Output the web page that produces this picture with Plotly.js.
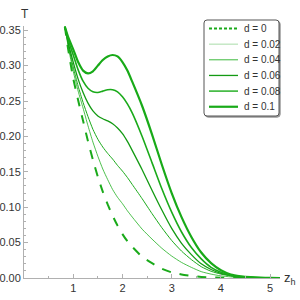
<!DOCTYPE html>
<html>
<head>
<meta charset="utf-8">
<script src="https://cdn.plot.ly/plotly-3.0.1.min.js"></script>
<style>html,body{margin:0;padding:0;background:#fff;}#chart{width:300px;height:300px;}</style>
</head>
<body>
<div id="chart"></div>
<script>
const zh = [0.83, 0.9, 1.0, 1.1, 1.2, 1.3, 1.4, 1.5, 1.6, 1.7, 1.8, 1.9, 2.0, 2.1, 2.2, 2.4, 2.6, 2.8, 3.0, 3.2, 3.4, 3.6, 3.8, 4.0, 4.2, 4.4, 4.6, 4.8, 5.0, 5.2];
const T_d0    = [0.355, 0.322, 0.282, 0.251, 0.222, 0.193, 0.167, 0.143, 0.122, 0.104, 0.088, 0.074, 0.062, 0.052, 0.044, 0.030, 0.021, 0.013, 0.008, 0.005, 0.003, 0.0015, 0.0008, 0.0004, 0.0002, 0.0001, 0.00005, 0.00002, 0.00001, 0];
const T_d002  = [0.355, 0.326, 0.292, 0.264, 0.240, 0.215, 0.192, 0.172, 0.154, 0.139, 0.125, 0.114, 0.105, 0.095, 0.086, 0.069, 0.055, 0.042, 0.031, 0.022, 0.015, 0.009, 0.0055, 0.003, 0.0016, 0.0008, 0.0004, 0.0002, 0.0001, 0];
const T_d004  = [0.355, 0.329, 0.298, 0.271, 0.248, 0.228, 0.210, 0.196, 0.185, 0.176, 0.168, 0.159, 0.151, 0.142, 0.132, 0.112, 0.091, 0.071, 0.053, 0.038, 0.026, 0.016, 0.0095, 0.0055, 0.003, 0.0015, 0.0007, 0.0003, 0.0001, 0];
const T_d006  = [0.355, 0.332, 0.305, 0.281, 0.262, 0.247, 0.236, 0.229, 0.225, 0.222, 0.218, 0.212, 0.204, 0.193, 0.180, 0.153, 0.124, 0.096, 0.070, 0.049, 0.033, 0.020, 0.012, 0.0065, 0.0034, 0.0017, 0.0008, 0.0003, 0.0001, 0];
const T_d008  = [0.355, 0.336, 0.315, 0.294, 0.278, 0.268, 0.263, 0.262, 0.264, 0.266, 0.266, 0.263, 0.256, 0.246, 0.233, 0.200, 0.163, 0.126, 0.093, 0.065, 0.043, 0.027, 0.015, 0.008, 0.004, 0.002, 0.001, 0.0004, 0.0001, 0];
const T_d010  = [0.355, 0.340, 0.323, 0.305, 0.293, 0.289, 0.292, 0.300, 0.308, 0.313, 0.315, 0.313, 0.305, 0.293, 0.277, 0.243, 0.203, 0.160, 0.120, 0.086, 0.058, 0.036, 0.021, 0.011, 0.005, 0.0025, 0.0011, 0.0004, 0.0001, 0];
const seriesNames = ["d = 0", "d = 0.02", "d = 0.04", "d = 0.06", "d = 0.08", "d = 0.1"];
const seriesVals = [T_d0, T_d002, T_d004, T_d006, T_d008, T_d010];
const xTickVals = [1, 2, 3, 4, 5];
const yTickVals = [0.00, 0.05, 0.10, 0.15, 0.20, 0.25, 0.30, 0.35];
const yTickText = ["0.00", "0.05", "0.10", "0.15", "0.20", "0.25", "0.30", "0.35"];

const colors = ["#1aaa1a", "#1fb01f", "#1aaa1a", "#139a13", "#1aaa1a", "#18aa18"];
const legendColors = ["#1aaa1a", "#a8dca8", "#3cba3c", "#139a13", "#36b536", "#18aa18"];
const widths = [2, 0.8, 1, 1.3, 1.6, 2.2];
const dashes = ["dash", "solid", "solid", "solid", "solid", "solid"];

const FONT = "Liberation Sans, Arial, sans-serif";

const traces = seriesVals.map((v, i) => ({
  x: zh, y: v, type: "scatter", mode: "lines", name: seriesNames[i],
  line: {color: colors[i], width: widths[i], dash: dashes[i], shape: "spline", smoothing: 0.6}
}));

// plot area in pixels
const L = 24, R = 20, TOP = 26, B = 22, W = 300, H = 300;
const pw = W - L - R, ph = H - TOP - B;
const px = p => (p - L) / pw;
const py = p => (H - B - p) / ph;

// custom legend box
const bx0 = 204, bx1 = 279, by0 = 20, by1 = 116, rad = 3;
function roundRect(x0, y0, x1, y1, r) {
  const X = px, Y = py;
  return `M ${X(x0 + r)} ${Y(y0)} L ${X(x1 - r)} ${Y(y0)} Q ${X(x1)} ${Y(y0)} ${X(x1)} ${Y(y0 + r)} ` +
         `L ${X(x1)} ${Y(y1 - r)} Q ${X(x1)} ${Y(y1)} ${X(x1 - r)} ${Y(y1)} ` +
         `L ${X(x0 + r)} ${Y(y1)} Q ${X(x0)} ${Y(y1)} ${X(x0)} ${Y(y1 - r)} ` +
         `L ${X(x0)} ${Y(y0 + r)} Q ${X(x0)} ${Y(y0)} ${X(x0 + r)} ${Y(y0)} Z`;
}
const shapes = [
  {type: "path", xref: "paper", yref: "paper", path: roundRect(bx0 + 1.2, by0 + 1.2, bx1 + 1.2, by1 + 1.2, rad),
   fillcolor: "#9a9a9a", line: {color: "#9a9a9a", width: 1}},
  {type: "path", xref: "paper", yref: "paper", path: roundRect(bx0, by0, bx1, by1, rad),
   fillcolor: "#ffffff", line: {color: "#555555", width: 1}}
];
const annotations = [
  {text: "T", xref: "paper", yref: "paper", x: 0, y: 1, xanchor: "center", yanchor: "bottom", yshift: 3, xshift: 1,
   showarrow: false, font: {family: FONT, size: 12, color: "#333"}},
  {text: "z<sub>h</sub>", xref: "paper", yref: "paper", x: 1, y: 0, xanchor: "left", yanchor: "middle", xshift: 2,
   showarrow: false, font: {family: FONT, size: 13, color: "#333"}}
];
const entryY0 = 28.5, entryStep = 15.65;
seriesNames.forEach((nm, i) => {
  const yy = entryY0 + i * entryStep;
  shapes.push({type: "line", xref: "paper", yref: "paper", x0: px(209), x1: px(238), y0: py(yy), y1: py(yy),
    line: {color: legendColors[i], width: Math.max(widths[i], 1), dash: i === 0 ? "3px,2px" : "solid"}});
  annotations.push({text: nm, xref: "paper", yref: "paper", x: px(242), y: py(yy), xanchor: "left", yanchor: "middle",
    showarrow: false, font: {family: FONT, size: 10, color: "#333"}});
});

const axisCommon = {
  showgrid: false, zeroline: false, showline: true, linecolor: "#b0b0b0", linewidth: 1,
  ticks: "inside", ticklen: 4, tickcolor: "#b0b0b0", tickwidth: 1,
  tickfont: {family: FONT, size: 11, color: "#333"}
};

const layout = {
  width: W, height: H,
  margin: {l: L, r: R, t: TOP, b: B},
  paper_bgcolor: "#fff", plot_bgcolor: "#fff",
  showlegend: false,
  xaxis: Object.assign({}, axisCommon, {
    range: [0, 5.2], tickvals: xTickVals, ticktext: xTickVals.map(String),
    minor: {dtick: 0.5, tick0: 0, ticklen: 2, tickcolor: "#b0b0b0", ticks: "inside"}
  }),
  yaxis: Object.assign({}, axisCommon, {
    range: [0, 0.356], tickvals: yTickVals, ticktext: yTickText,
    minor: {dtick: 0.01, tick0: 0, ticklen: 2, tickcolor: "#b0b0b0", ticks: "inside"}
  }),
  shapes: shapes,
  annotations: annotations
};

Plotly.newPlot("chart", traces, layout, {displayModeBar: false, staticPlot: true});
</script>
</body>
</html>
